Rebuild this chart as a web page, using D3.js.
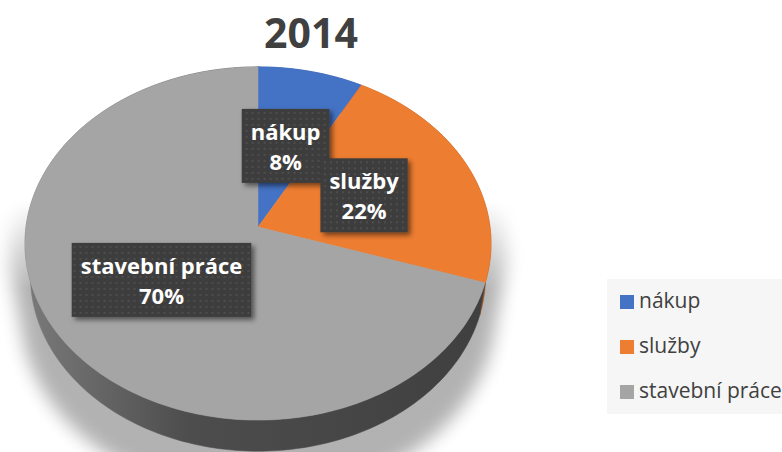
<!DOCTYPE html>
<html lang="cs">
<head>
<meta charset="utf-8">
<title>2014</title>
<style>
body { margin: 0; background: #fff; }
svg { display: block; font-family: "Open Sans", sans-serif; }
.title { font-size: 41px; font-weight: bold; fill: #404040; text-anchor: middle; }
.lbl { font-size: 22px; font-weight: bold; fill: #fff; text-anchor: middle; }
.legend text { font-size: 21px; fill: #404040; }
</style>
</head>
<body>
<div id="chart"></div>
<script src="https://cdn.jsdelivr.net/npm/d3@7"></script>
<script>
// data
var categories = ["nákup", "služby", "stavební práce"];
var values = [8, 22, 70];
var colors = ["#4472c4", "#ed7d31", "#a5a5a5"];
var sideColors = ["#2f5597", "url(#sideOrange)", "url(#sideGray)"];
var title = "2014";

var width = 782, height = 452;

// 3d pie set-up (perspective tilt)
var cx = 258, cy = 227;
var tilt = 49 * Math.PI / 180, dist = 7.03, depthH = 0.22, k = 232 * dist;

function proj(theta, r, h) {
  var X = r * Math.sin(theta), Z = r * Math.cos(theta), Y = h;
  var yc = Y * Math.cos(tilt) + Z * Math.sin(tilt);
  var zc = dist + Z * Math.cos(tilt) - Y * Math.sin(tilt);
  return [cx + k * X / zc, cy - k * yc / zc];
}

function rim(a0, a1, h, r) {
  r = r || 1;
  var n = Math.max(4, Math.ceil((a1 - a0) / 0.02));
  return d3.range(n + 1).map(function(i) { return proj(a0 + (a1 - a0) * i / n, r, h); });
}

var line = d3.line();
var pie = d3.pie().sort(null);
var arcs = pie(values);

var svg = d3.select("#chart").append("svg")
    .attr("width", width)
    .attr("height", height);

var defs = svg.append("defs");

var g1 = defs.append("linearGradient").attr("id", "sideGray")
    .attr("gradientUnits", "userSpaceOnUse")
    .attr("x1", 25).attr("x2", 491).attr("y1", 0).attr("y2", 0);
g1.append("stop").attr("offset", 0).attr("stop-color", "#7a7a7a");
g1.append("stop").attr("offset", 0.35).attr("stop-color", "#4d4d4d");
g1.append("stop").attr("offset", 1).attr("stop-color", "#3f3f3f");

var g2 = defs.append("linearGradient").attr("id", "sideOrange")
    .attr("gradientUnits", "userSpaceOnUse")
    .attr("x1", 25).attr("x2", 491).attr("y1", 0).attr("y2", 0);
g2.append("stop").attr("offset", 0).attr("stop-color", "#c46a2b");
g2.append("stop").attr("offset", 1).attr("stop-color", "#a8531b");

defs.append("filter").attr("id", "blur")
    .attr("x", "-20%").attr("y", "-20%").attr("width", "140%").attr("height", "140%")
  .append("feGaussianBlur").attr("stdDeviation", 9);

// fade the shadow out towards the top of the pie
var fade = defs.append("linearGradient").attr("id", "fade")
    .attr("gradientUnits", "userSpaceOnUse")
    .attr("x1", 0).attr("x2", 0).attr("y1", 200).attr("y2", 290);
fade.append("stop").attr("offset", 0).attr("stop-color", "#000");
fade.append("stop").attr("offset", 1).attr("stop-color", "#fff");
defs.append("mask").attr("id", "fadeMask")
    .attr("maskUnits", "userSpaceOnUse")
    .attr("x", 0).attr("y", 0).attr("width", width).attr("height", height)
  .append("rect")
    .attr("width", width).attr("height", height)
    .attr("fill", "url(#fade)");

defs.append("filter").attr("id", "boxShadow")
    .attr("x", "-20%").attr("y", "-20%").attr("width", "150%").attr("height", "150%")
  .append("feDropShadow")
    .attr("dx", 3).attr("dy", 3).attr("stdDeviation", 2.5)
    .attr("flood-color", "#000").attr("flood-opacity", 0.5);

var pat = defs.append("pattern").attr("id", "dots")
    .attr("patternUnits", "userSpaceOnUse")
    .attr("width", 6).attr("height", 6);
pat.append("rect").attr("width", 6).attr("height", 6).attr("fill", "#3d3d3d");
pat.append("circle").attr("cx", 3).attr("cy", 3).attr("r", 0.9).attr("fill", "#555");

// soft shadow under the pie
var shadow = svg.append("g")
    .attr("mask", "url(#fadeMask)")
  .append("g")
    .attr("opacity", 0.3)
    .attr("filter", "url(#blur)");
[-0.05, -0.25, -0.45].forEach(function(h) {
  shadow.append("path")
      .attr("d", line(rim(0, 2 * Math.PI, h, 1.07)) + "Z")
      .attr("fill", "#000");
});

// side walls
svg.append("g").selectAll("path")
  .data(arcs)
  .enter().append("path")
    .attr("d", function(d) {
      var top = rim(d.startAngle, d.endAngle, 0);
      var bot = rim(d.startAngle, d.endAngle, -depthH).reverse();
      return line(top.concat(bot)) + "Z";
    })
    .attr("fill", function(d, i) { return sideColors[i]; })
    .attr("stroke", function(d, i) { return sideColors[i]; })
    .attr("stroke-width", 0.5);

// top face
svg.append("g").selectAll("path")
  .data(arcs)
  .enter().append("path")
    .attr("d", function(d) {
      return line([proj(0, 0, 0)].concat(rim(d.startAngle, d.endAngle, 0))) + "Z";
    })
    .attr("fill", function(d, i) { return colors[i]; })
    .attr("stroke", function(d, i) { return colors[i]; })
    .attr("stroke-width", 0.5);

// data labels
var total = d3.sum(values);
var lab = svg.append("g").selectAll("g")
  .data(arcs)
  .enter().append("g")
    .attr("transform", function(d) {
      var p = proj((d.startAngle + d.endAngle) / 2, 0.5, 0);
      return "translate(" + p[0] + "," + p[1] + ")";
    });

var boxes = lab.append("rect")
    .attr("fill", "url(#dots)")
    .attr("filter", "url(#boxShadow)");

lab.append("text").attr("class", "lbl")
    .attr("y", -6)
    .text(function(d, i) { return categories[i]; });
lab.append("text").attr("class", "lbl")
    .attr("y", 24)
    .text(function(d) { return Math.round(d.value / total * 100) + "%"; });

boxes.each(function() {
  var w = 0;
  d3.select(this.parentNode).selectAll("text").each(function() {
    w = Math.max(w, this.getComputedTextLength());
  });
  d3.select(this)
    .attr("x", -w / 2 - 9).attr("width", w + 18)
    .attr("y", -37).attr("height", 74);
});

// title
svg.append("text").attr("class", "title")
    .attr("x", 311).attr("y", 48)
    .text(title);

// legend
var legend = svg.append("g").attr("class", "legend");
legend.append("rect")
    .attr("x", 607).attr("y", 279)
    .attr("width", 175).attr("height", 135)
    .attr("fill", "#f6f6f6");

var items = legend.selectAll("g.item")
  .data(categories)
  .enter().append("g")
    .attr("class", "item")
    .attr("transform", function(d, i) { return "translate(620," + (308 + i * 45) + ")"; });

items.append("rect")
    .attr("x", 0).attr("y", -13)
    .attr("width", 14).attr("height", 14)
    .attr("fill", function(d, i) { return colors[i]; });

items.append("text")
    .attr("x", 19)
    .text(function(d) { return d; });
</script>
</body>
</html>
